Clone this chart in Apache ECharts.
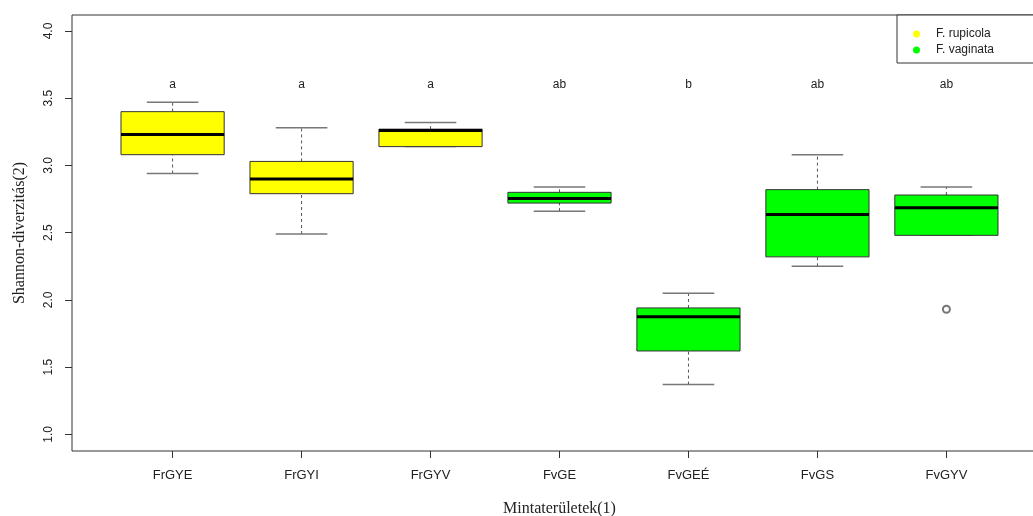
<!DOCTYPE html>
<html>
<head>
<meta charset="utf-8">
<script src="https://cdn.jsdelivr.net/npm/echarts@6/dist/echarts.min.js"></script>
<style>html,body{margin:0;padding:0;background:#fff}#c{width:1033px;height:516px}</style>
</head>
<body>
<div id="c"></div>
<script>
// ---- data ----
const categories = ['FrGYE', 'FrGYI', 'FrGYV', 'FvGE', 'FvGEÉ', 'FvGS', 'FvGYV'];
const species = ['F. rupicola', 'F. rupicola', 'F. rupicola', 'F. vaginata', 'F. vaginata', 'F. vaginata', 'F. vaginata'];
const lowerWhisker = [2.94, 2.49, 3.14, 2.66, 1.37, 2.25, 2.48];
const q1 = [3.08, 2.79, 3.14, 2.72, 1.62, 2.32, 2.48];
const median = [3.23, 2.90, 3.26, 2.755, 1.875, 2.635, 2.685];
const q3 = [3.40, 3.03, 3.27, 2.80, 1.94, 2.82, 2.78];
const upperWhisker = [3.47, 3.28, 3.32, 2.84, 2.05, 3.08, 2.84];
const outlierCategory = ['FvGYV'];
const outlierValue = [1.93];
const letters = ['a', 'a', 'a', 'ab', 'b', 'ab', 'ab'];
const letterLevel = 3.6;
const yTicks = [1.0, 1.5, 2.0, 2.5, 3.0, 3.5, 4.0];
const speciesNames = ['F. rupicola', 'F. vaginata'];
const speciesColors = ['#ffff00', '#00ff00'];

// ---- build ----
const xTicks = categories.map((c, i) => i + 1);
function itemsFor(sp) {
  const out = [];
  categories.forEach((c, i) => {
    if (species[i] === sp) out.push([i + 1, lowerWhisker[i], q1[i], median[i], q3[i], upperWhisker[i], i]);
  });
  return out;
}
function renderBox(color) {
  return function (params, api) {
    const x = api.value(0);
    const lo = api.coord([x, api.value(1)]);
    const b = api.coord([x, api.value(2)]);
    const m = api.coord([x, api.value(3)]);
    const t = api.coord([x, api.value(4)]);
    const hi = api.coord([x, api.value(5)]);
    const lt = api.coord([x, letterLevel]);
    const idx = api.value(6);
    const bw = api.size([0.8, 0])[0];
    const cw = api.size([0.4, 0])[0];
    const cx = lo[0];
    const dash = { stroke: '#555', lineWidth: 1, lineDash: [3, 3] };
    return {
      type: 'group',
      children: [
        { type: 'line', shape: { x1: cx, y1: t[1], x2: cx, y2: hi[1] }, style: dash },
        { type: 'line', shape: { x1: cx, y1: lo[1], x2: cx, y2: b[1] }, style: dash },
        { type: 'line', shape: { x1: cx - cw / 2, y1: hi[1], x2: cx + cw / 2, y2: hi[1] }, style: { stroke: '#777', lineWidth: 1.5 } },
        { type: 'line', shape: { x1: cx - cw / 2, y1: lo[1], x2: cx + cw / 2, y2: lo[1] }, style: { stroke: '#777', lineWidth: 1.5 } },
        { type: 'rect', shape: { x: cx - bw / 2, y: t[1], width: bw, height: b[1] - t[1] }, style: { fill: color, stroke: '#333', lineWidth: 1 } },
        { type: 'line', shape: { x1: cx - bw / 2, y1: m[1], x2: cx + bw / 2, y2: m[1] }, style: { stroke: '#000', lineWidth: 3 } },
        { type: 'text', x: cx, y: lt[1], style: { text: letters[idx], fill: '#222', font: '12px "Liberation Sans", Arial, sans-serif', align: 'center', verticalAlign: 'middle' } }
      ]
    };
  };
}

const chart = echarts.init(document.getElementById('c'), null, { renderer: 'canvas' });
chart.setOption({
  backgroundColor: '#fff',
  animation: false,
  grid: { left: 72, top: 15, width: 975, height: 436, outerBoundsMode: 'none', containLabel: false, show: true, borderColor: '#333', borderWidth: 1, backgroundColor: 'transparent' },
  legend: {
    data: speciesNames,
    orient: 'vertical',
    left: 897, top: 15,
    padding: [13, 45, 7, 16],
    itemGap: 4,
    icon: 'circle', itemWidth: 7, itemHeight: 7,
    borderColor: '#333', borderWidth: 1, backgroundColor: '#fff',
    textStyle: { fontSize: 12, color: '#222', fontFamily: '"Liberation Sans", Arial, sans-serif', padding: [0, 0, 0, 11] }
  },
  xAxis: {
    type: 'value', min: 0.22, max: 7.78,
    name: 'Mintaterületek(1)', nameLocation: 'middle', nameGap: 50,
    nameTextStyle: { fontFamily: '"Liberation Serif", "Times New Roman", serif', fontSize: 16, color: '#222' },
    axisLine: { show: false },
    splitLine: { show: false },
    axisTick: { show: true, customValues: xTicks, length: 7, lineStyle: { color: '#333' } },
    axisLabel: { customValues: xTicks, margin: 18, fontSize: 13, color: '#222', fontFamily: '"Liberation Sans", Arial, sans-serif', formatter: v => categories[Math.round(v) - 1] || '' }
  },
  yAxis: {
    type: 'value', min: 0.876, max: 4.119,
    name: 'Shannon-diverzitás(2)', nameLocation: 'middle', nameGap: 44,
    nameTextStyle: { fontFamily: '"Liberation Serif", "Times New Roman", serif', fontSize: 16, color: '#222' },
    axisLine: { show: false },
    splitLine: { show: false },
    axisTick: { show: true, customValues: yTicks, length: 7, lineStyle: { color: '#333' } },
    axisLabel: { customValues: yTicks, rotate: 90, margin: 17, fontSize: 12, color: '#222', fontFamily: '"Liberation Sans", Arial, sans-serif', formatter: v => v.toFixed(1) }
  },
  series: [
    {
      name: speciesNames[0], type: 'custom', itemStyle: { color: speciesColors[0] },
      renderItem: renderBox(speciesColors[0]), data: itemsFor(speciesNames[0]),
      encode: { x: 0, y: [1, 2, 3, 4, 5] }
    },
    {
      name: speciesNames[1], type: 'custom', itemStyle: { color: speciesColors[1] },
      renderItem: renderBox(speciesColors[1]), data: itemsFor(speciesNames[1]),
      encode: { x: 0, y: [1, 2, 3, 4, 5] }
    },
    {
      name: 'outliers', type: 'scatter', symbol: 'emptyCircle', symbolSize: 7,
      itemStyle: { color: '#555', borderColor: '#555', borderWidth: 1 },
      data: outlierCategory.map((c, i) => [categories.indexOf(c) + 1, outlierValue[i]])
    }
  ]
});
</script>
</body>
</html>
